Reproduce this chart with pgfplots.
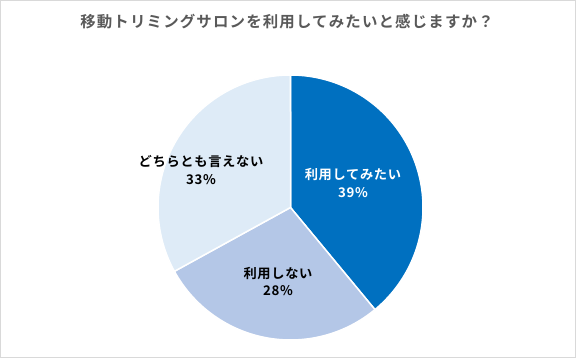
\documentclass[border=0pt]{standalone}
\usepackage{fontspec}
\setmainfont{Noto Sans CJK JP}
\newfontfamily\titlefont[LetterSpace=7.5]{Noto Sans CJK JP Bold}
\newfontfamily\labfont[LetterSpace=5]{Noto Sans CJK JP Bold}
\usepackage{pgfplots}
\pgfplotsset{compat=1.18}
\definecolor{sA}{HTML}{0070C0}
\definecolor{sB}{HTML}{B4C7E7}
\definecolor{sC}{HTML}{DEEBF7}
\definecolor{tgray}{HTML}{595959}
\definecolor{bgray}{HTML}{D9D9D9}
\begin{document}
\begin{tikzpicture}
% data (percent)
\pgfmathsetmacro{\va}{39}
\pgfmathsetmacro{\vb}{28}
\pgfmathsetmacro{\vc}{33}
\pgfmathsetmacro{\aA}{90}
\pgfmathsetmacro{\aB}{90-3.6*\va}
\pgfmathsetmacro{\aC}{\aB-3.6*\vb}
\pgfmathsetmacro{\aD}{\aC-3.6*\vc}
\begin{axis}[at={(0,0)}, anchor=south west, scale only axis,
  width=576bp, height=358bp, xmin=0, xmax=576, ymin=0, ymax=358,
  hide axis, clip=false]
\draw[bgray, line width=1.2bp] (0.6,0.6) rectangle (575.4,357.4);
\addplot[fill=sA, draw=white, line width=1.5bp, domain=\aA:\aB, samples=120, variable=\t]
  ({290.5+132.5*cos(t)},{150.5+132.5*sin(t)}) -- (290.5,150.5) -- cycle;
\addplot[fill=sB, draw=white, line width=1.5bp, domain=\aB:\aC, samples=120, variable=\t]
  ({290.5+132.5*cos(t)},{150.5+132.5*sin(t)}) -- (290.5,150.5) -- cycle;
\addplot[fill=sC, draw=white, line width=1.5bp, domain=\aC:\aD, samples=120, variable=\t]
  ({290.5+132.5*cos(t)},{150.5+132.5*sin(t)}) -- (290.5,150.5) -- cycle;
\node[text=tgray, font=\titlefont\fontsize{15.5}{18}\selectfont] at (287,336.5) {移動トリミングサロンを利用してみたいと感じますか？};
\node[text=white, align=center, font=\labfont\fontsize{13.3}{18}\selectfont] at (353,175) {利用してみたい\\39\%};
\node[text=black, align=center, font=\labfont\fontsize{13.3}{18}\selectfont] at (201,188) {どちらとも言えない\\33\%};
\node[text=black, align=center, font=\labfont\fontsize{13.3}{18}\selectfont] at (278,76.5) {利用しない\\28\%};
\end{axis}
\end{tikzpicture}
\end{document}
